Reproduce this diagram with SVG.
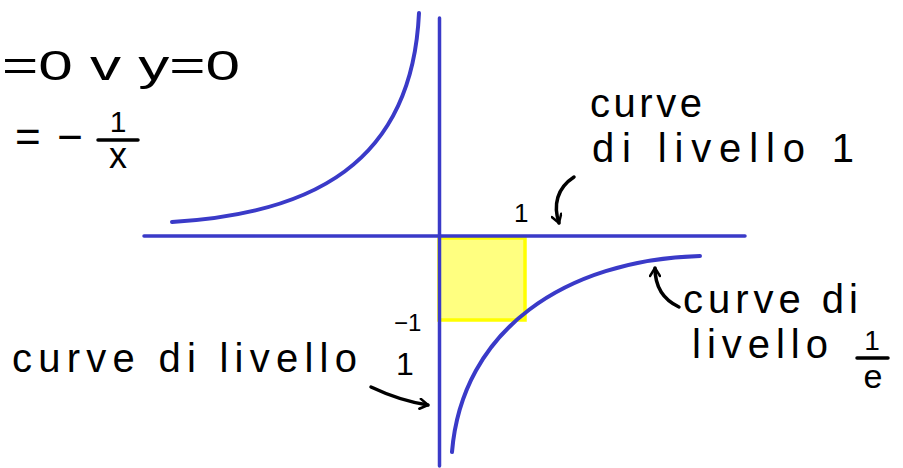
<svg xmlns="http://www.w3.org/2000/svg" width="903" height="468" viewBox="0 0 903 468">
<style>
.ax{stroke:#3a3ac8;stroke-width:3.5;fill:none;stroke-linecap:round}
.cv{stroke:#3a3ac8;stroke-width:4;fill:none;stroke-linecap:round}
.t{font-family:"Liberation Sans","DejaVu Sans",sans-serif;fill:#000}
.ar{stroke:#000;stroke-width:3.5;fill:none;stroke-linecap:round;marker-end:url(#head)}
.bar{stroke:#000;stroke-width:3.5;stroke-linecap:round}
</style>
<defs>
<marker id="head" viewBox="0 0 12 12" refX="10" refY="6" markerWidth="12" markerHeight="12" markerUnits="userSpaceOnUse" orient="auto">
<path d="M2,1 L10,6 L2,11" fill="none" stroke="#000" stroke-width="2.5" stroke-linecap="round" stroke-linejoin="round"/>
</marker>
</defs>
<rect width="903" height="468" fill="#fff"/>
<g id="square">
<rect x="439" y="238" width="86" height="82" fill="#ffff80" stroke="#ffff00" stroke-width="3.5"/>
</g>
<g id="axes">
<line class="ax" x1="144" y1="236" x2="745" y2="236"/>
<line class="ax" x1="439.5" y1="18" x2="439.5" y2="466"/>
</g>
<g id="curves">
<path class="cv" d="M172,222 C310,214 412,165 419,13"/>
<path class="cv" d="M452,452 C462,330 565,260 700,256"/>
</g>
<g id="connectors">
<path class="ar" d="M574,177 C557,188 553,205 559,223"/>
<path class="ar" d="M679,307 C664,300 655,287 655,268"/>
<path class="ar" d="M371,387 C390,396 408,402 428,405"/>
</g>
<g id="equations">
<text class="t" x="2" y="80" font-size="42" textLength="238" lengthAdjust="spacingAndGlyphs">=0 v y=0</text>
<text class="t" x="15" y="152" font-size="44" textLength="68" lengthAdjust="spacing">= −</text>
<text class="t" x="118" y="132" font-size="30" text-anchor="middle">1</text>
<line class="bar" x1="98" y1="140" x2="138" y2="140"/>
<text class="t" x="118" y="168" font-size="36" text-anchor="middle">x</text>
</g>
<g id="tick-labels">
<text class="t" x="514" y="222" font-size="26">1</text>
<text class="t" x="394" y="331" font-size="24">−1</text>
</g>
<g id="label-top">
<text class="t" x="590" y="117" font-size="40" textLength="112" lengthAdjust="spacing">curve</text>
<text class="t" x="592" y="162" font-size="40" textLength="262" lengthAdjust="spacing">di livello 1</text>
</g>
<g id="label-right">
<text class="t" x="683" y="313" font-size="40" textLength="175" lengthAdjust="spacing">curve di</text>
<text class="t" x="692" y="358" font-size="40" textLength="136" lengthAdjust="spacing">livello</text>
<text class="t" x="872" y="350" font-size="28" text-anchor="middle">1</text>
<line class="bar" x1="857" y1="358" x2="888" y2="358"/>
<text class="t" x="873" y="388" font-size="34" text-anchor="middle">e</text>
</g>
<g id="label-bottom-left">
<text class="t" x="12" y="372" font-size="40" textLength="345" lengthAdjust="spacing">curve di livello</text>
<text class="t" x="396" y="375" font-size="32">1</text>
</g>
</svg>
